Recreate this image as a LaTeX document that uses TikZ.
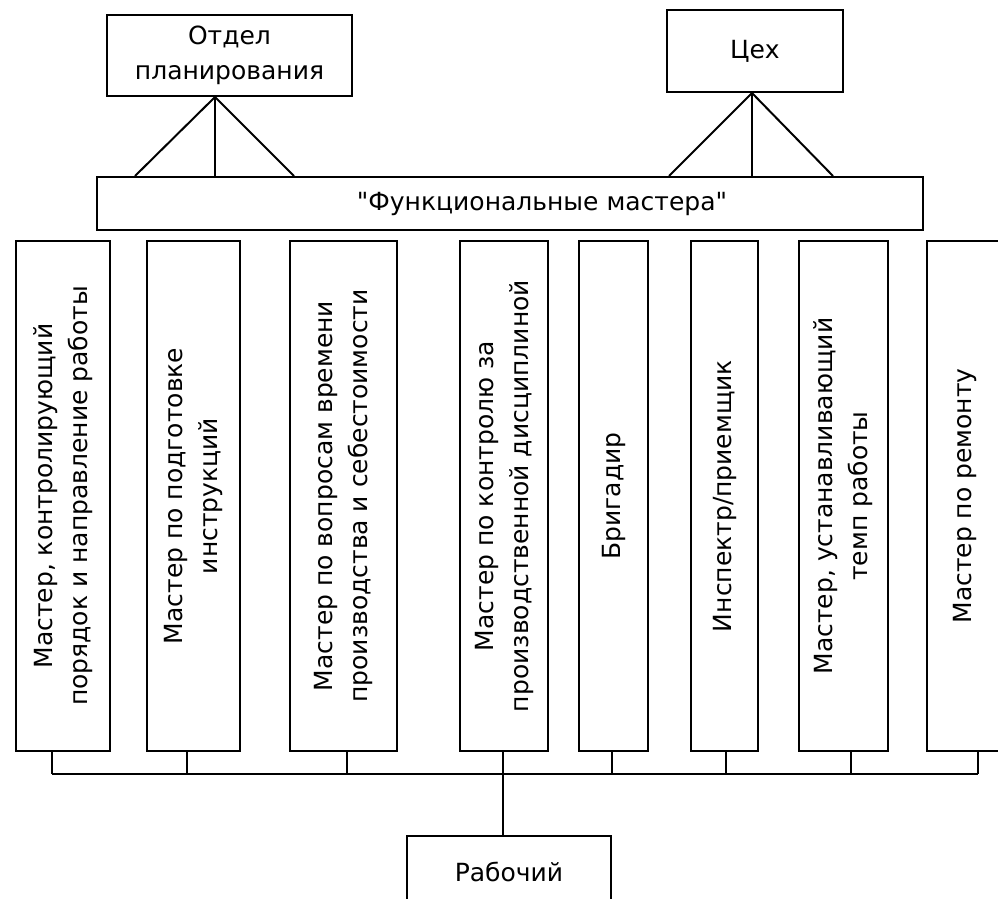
\documentclass[tikz,border=0pt]{standalone}
\usepackage{fontspec}
\setmainfont{DejaVu Sans}[Ligatures=TeXOff]
\begin{document}
\begin{tikzpicture}[x=1pt,y=-1pt,
  every node/.style={font=\fontsize{25}{35}\selectfont, inner sep=0pt, align=center},
  box/.style={draw, line width=2pt, rectangle},
  vbox/.style={box, rotate=90, minimum width=510pt},
  link/.style={line width=2pt}]
\useasboundingbox (0,0) rectangle (998,898);
\fill[white] (0,0) rectangle (998,898);

% top boxes
\node[box, minimum width=245pt, minimum height=81pt] (plan) at (229.5,55.5) {Отдел\\планирования};
\node[box, minimum width=176pt, minimum height=82pt] (ceh) at (755,51) {Цех};
\node[box, minimum width=826pt, minimum height=53pt] (func) at (510,203.5) {\hspace*{64pt}"Функциональные мастера"};

% vertical boxes
\node[vbox, minimum height=94pt] (m1) at (63,496) {Мастер, контролирующий\\порядок и направление работы};
\node[vbox, minimum height=93pt] (m2) at (193.5,496) {Мастер по подготовке\\инструкций};
\node[vbox, minimum height=107pt] (m3) at (343.5,496) {Мастер по вопросам времени\\производства и себестоимости};
\node[vbox, minimum height=88pt] (m4) at (504,496) {Мастер по контролю за\\производственной дисциплиной};
\node[vbox, minimum height=69pt] (m5) at (613.5,496) {Бригадир};
\node[vbox, minimum height=67pt] (m6) at (724.5,496) {Инспектр/приемщик};
\node[vbox, minimum height=89pt] (m7) at (843.5,496) {Мастер, устанавливающий\\темп работы};
\node[vbox, minimum height=76pt] (m8) at (965,496) {Мастер по ремонту};

% worker
\node[box, minimum width=204pt, minimum height=72pt] (worker) at (509,872) {Рабочий};

% links from top boxes
\coordinate (pa) at ([xshift=-14.5pt]plan.south);
\coordinate (ca) at ([xshift=-3pt]ceh.south);
\coordinate (p1) at (135,0);
\coordinate (p2) at (215,0);
\coordinate (p3) at (294,0);
\coordinate (c1) at (669,0);
\coordinate (c2) at (752,0);
\coordinate (c3) at (833,0);
\foreach \p in {p1,p2,p3} \draw[link] (pa) -- (func.north -| \p);
\foreach \p in {c1,c2,c3} \draw[link] (ca) -- (func.north -| \p);

% bus
\foreach \n/\x in {m1/52, m2/187, m3/347, m4/503, m5/612, m6/726, m7/851, m8/978} {
  \coordinate (b\n) at (\x,774);
  \draw[link] (\n.west -| b\n) -- (b\n);
}
\draw[link] (bm1) -- (bm8);
\draw[link] (bm4) -- (worker.north -| bm4);
\end{tikzpicture}
\end{document}
